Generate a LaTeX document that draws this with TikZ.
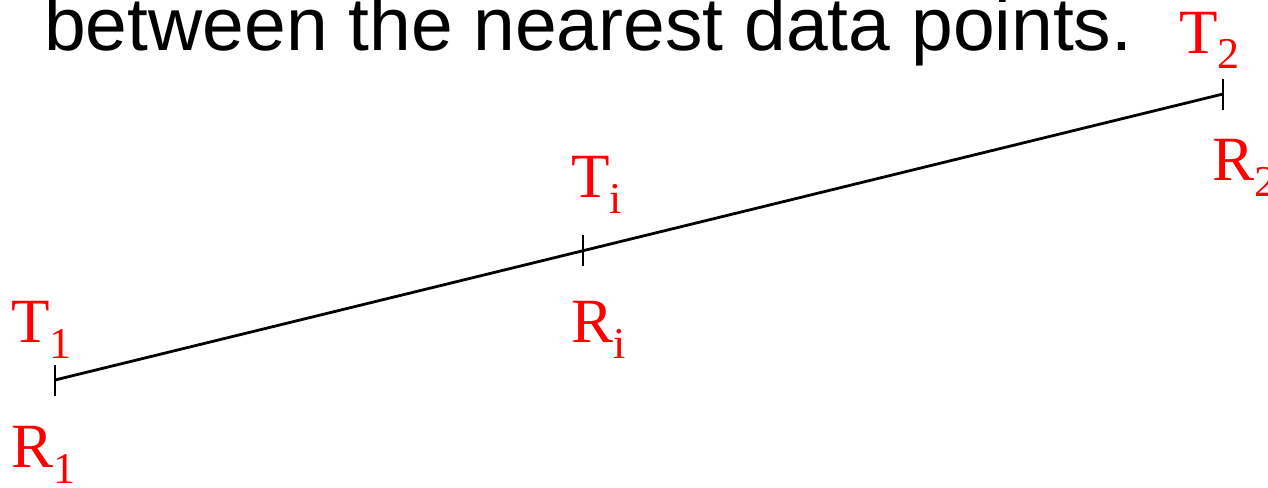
\documentclass[tikz,border=0pt]{standalone}
\usepackage{fontspec}
\setmainfont{Liberation Serif}
\newfontfamily\headfont{Liberation Sans}
\newcommand{\lsub}[2]{#1\raisebox{-16pt}{\fontsize{44}{44}\selectfont #2}}
\tikzset{
  lbl/.style={text=red, inner sep=0pt, anchor=base west, font=\fontsize{63}{63}\selectfont},
  segline/.style={line width=2.8pt, black},
  tickline/.style={line width=2.8pt, black},
  headtext/.style={inner sep=0pt, anchor=base west, font=\headfont\fontsize{75}{75}\selectfont}
}
\begin{document}
\begin{tikzpicture}[x=1pt,y=-1pt]
\clip (0,0) rectangle (1268,487);
\fill[white] (0,0) rectangle (1268,487);
\node[headtext] (head) at (44,51) {between the nearest data points.};
\coordinate (p1) at (55,380);
\coordinate (pi) at (583,250.6);
\coordinate (p2) at (1223,94);
\draw[segline] (p1) -- (p2);
\draw[tickline] ([yshift=15.5pt]p1) -- ([yshift=-15.5pt]p1);
\draw[tickline] ([yshift=15.5pt]pi) -- ([yshift=-15.5pt]pi);
\draw[tickline] ([yshift=15.5pt]p2) -- ([yshift=-15.5pt]p2);
\node[lbl] (t1) at (11,342) {\lsub{T}{1}};
\node[lbl] (r1) at (11,467) {\lsub{R}{1}};
\node[lbl] (ti) at (571,197) {\lsub{T}{i}};
\node[lbl] (ri) at (571,342) {\lsub{R}{i}};
\node[lbl] (t2) at (1179,53) {\lsub{T}{2}};
\node[lbl] (r2) at (1212,180) {\lsub{R}{2}};
\end{tikzpicture}
\end{document}
